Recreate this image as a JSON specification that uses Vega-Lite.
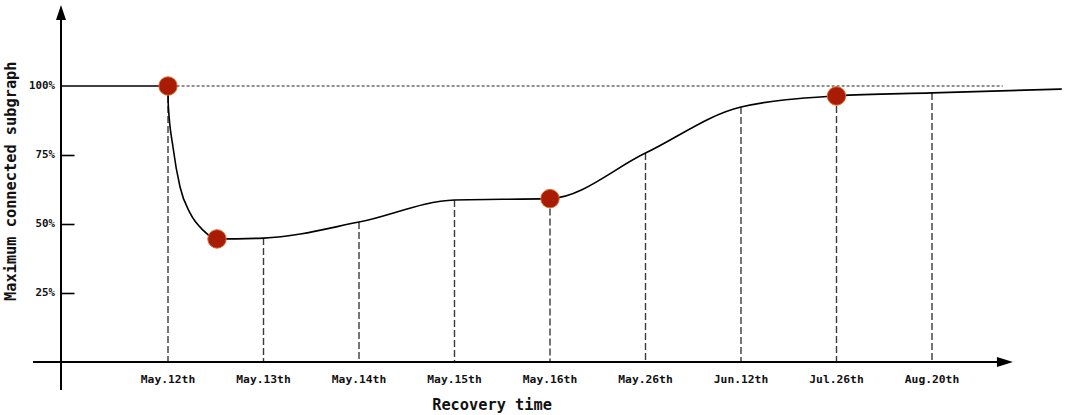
{
  "$schema": "https://vega.github.io/schema/vega-lite/v6.json",
  "width": 1065,
  "height": 415,
  "autosize": {"type": "none"},
  "padding": 0,
  "background": "white",
  "config": {"view": {"stroke": null}},
  "resolve": {"axis": {"y": "independent", "x": "independent"}},
  "datasets": {
    "curve": [
      {"series": "flat", "t": -0.12, "v": 100},
      {"series": "flat", "t": 1, "v": 100},
      {"series": "curve", "t": 1, "v": 100},
      {"series": "curve", "t": 1.003, "v": 93},
      {"series": "curve", "t": 1.052, "v": 77.9},
      {"series": "curve", "t": 1.126, "v": 63.4},
      {"series": "curve", "t": 1.23, "v": 54.0},
      {"series": "curve", "t": 1.366, "v": 47.8},
      {"series": "curve", "t": 1.513, "v": 44.6},
      {"series": "curve", "t": 2, "v": 44.9},
      {"series": "curve", "t": 3, "v": 50.7},
      {"series": "curve", "t": 4, "v": 58.7},
      {"series": "curve", "t": 5, "v": 59.2},
      {"series": "curve", "t": 6, "v": 75.7},
      {"series": "curve", "t": 7, "v": 92.4},
      {"series": "curve", "t": 8, "v": 96.4},
      {"series": "curve", "t": 9, "v": 97.5},
      {"series": "curve", "t": 10.36, "v": 98.9}
    ],
    "ticks": [
      {"t": 1, "label": "May.12th", "top": 100},
      {"t": 2, "label": "May.13th", "top": 44.9},
      {"t": 3, "label": "May.14th", "top": 50.7},
      {"t": 4, "label": "May.15th", "top": 58.7},
      {"t": 5, "label": "May.16th", "top": 59.2},
      {"t": 6, "label": "May.26th", "top": 75.7},
      {"t": 7, "label": "Jun.12th", "top": 92.4},
      {"t": 8, "label": "Jul.26th", "top": 96.4},
      {"t": 9, "label": "Aug.20th", "top": 97.5}
    ],
    "points": [
      {"t": 1, "v": 100},
      {"t": 1.513, "v": 44.6},
      {"t": 5, "v": 59.2},
      {"t": 8, "v": 96.4}
    ],
    "yticks": [
      {"v": 100, "label": "100%"},
      {"v": 75, "label": "75%"},
      {"v": 50, "label": "50%"},
      {"v": 25, "label": "25%"}
    ]
  },
  "layer": [
    {
      "data": {"name": "ticks"},
      "mark": {"type": "rule", "color": "#3a3a3a", "strokeWidth": 1.4, "strokeDash": [7, 3]},
      "encoding": {
        "x": {"field": "t", "type": "quantitative", "scale": {"domain": [-0.7592, 10.3927], "nice": false, "zero": false}, "axis": null},
        "y": {"field": "top", "type": "quantitative", "scale": {"domain": [-19.2, 131.16], "nice": false, "zero": false}, "axis": null},
        "y2": {"datum": 0}
      }
    },
    {
      "data": {"values": [{}]},
      "mark": {"type": "rule", "color": "#222222", "strokeWidth": 1.2, "strokeDash": [3, 2]},
      "encoding": {
        "x": {"datum": 1.09, "type": "quantitative", "scale": {"domain": [-0.7592, 10.3927], "nice": false, "zero": false}, "axis": null},
        "x2": {"datum": 9.74},
        "y": {"datum": 100, "type": "quantitative", "scale": {"domain": [-19.2, 131.16], "nice": false, "zero": false}, "axis": null}
      }
    },
    {
      "data": {"values": [{}]},
      "mark": {"type": "rule", "color": "#000000", "strokeWidth": 2},
      "encoding": {
        "x": {"datum": -0.1204, "type": "quantitative", "scale": {"domain": [-0.7592, 10.3927], "nice": false, "zero": false}, "axis": null},
        "y": {"datum": -10.14, "type": "quantitative", "scale": {"domain": [-19.2, 131.16], "nice": false, "zero": false}, "axis": null},
        "y2": {"datum": 124.5}
      }
    },
    {
      "data": {"values": [{}]},
      "mark": {"type": "rule", "color": "#000000", "strokeWidth": 2},
      "encoding": {
        "x": {"datum": -0.4136, "type": "quantitative", "scale": {"domain": [-0.7592, 10.3927], "nice": false, "zero": false}, "axis": null},
        "x2": {"datum": 9.70},
        "y": {"datum": 0, "type": "quantitative", "scale": {"domain": [-19.2, 131.16], "nice": false, "zero": false}, "axis": null}
      }
    },
    {
      "data": {"values": [{}]},
      "mark": {"type": "point", "shape": "M0,-1L0.667,1L-0.667,1Z", "size": 225, "filled": true, "color": "#000000", "opacity": 1},
      "encoding": {
        "x": {"datum": -0.1204, "type": "quantitative", "scale": {"domain": [-0.7592, 10.3927], "nice": false, "zero": false}, "axis": null},
        "y": {"datum": 126.6, "type": "quantitative", "scale": {"domain": [-19.2, 131.16], "nice": false, "zero": false}, "axis": null}
      }
    },
    {
      "data": {"values": [{}]},
      "mark": {"type": "point", "shape": "M1,0L-1,-0.625L-1,0.625Z", "size": 256, "filled": true, "color": "#000000", "opacity": 1},
      "encoding": {
        "x": {"datum": 9.764, "type": "quantitative", "scale": {"domain": [-0.7592, 10.3927], "nice": false, "zero": false}, "axis": null},
        "y": {"datum": 0, "type": "quantitative", "scale": {"domain": [-19.2, 131.16], "nice": false, "zero": false}, "axis": null}
      }
    },
    {
      "data": {"name": "curve"},
      "mark": {"type": "line", "interpolate": "monotone", "color": "#000000", "strokeWidth": 1.6},
      "encoding": {
        "x": {"field": "t", "type": "quantitative", "scale": {"domain": [-0.7592, 10.3927], "nice": false, "zero": false}, "axis": null},
        "y": {
          "field": "v",
          "type": "quantitative",
          "scale": {"domain": [-19.2, 131.16], "nice": false, "zero": false},
          "axis": {
            "orient": "right",
            "offset": -1004,
            "values": [25, 50, 75],
            "tickSize": 13,
            "tickWidth": 1.6,
            "tickColor": "#000000",
            "tickOpacity": 1,
            "ticks": true,
            "labels": false,
            "domain": false,
            "grid": false,
            "title": null
          }
        },
        "detail": {"field": "series", "type": "nominal"}
      }
    },
    {
      "data": {"name": "points"},
      "mark": {"type": "point", "filled": true, "size": 340, "color": "#a81c05", "stroke": "#d8662a", "strokeWidth": 1, "opacity": 1},
      "encoding": {
        "x": {"field": "t", "type": "quantitative", "scale": {"domain": [-0.7592, 10.3927], "nice": false, "zero": false}, "axis": null},
        "y": {"field": "v", "type": "quantitative", "scale": {"domain": [-19.2, 131.16], "nice": false, "zero": false}, "axis": null}
      }
    },
    {
      "data": {"name": "ticks"},
      "mark": {"type": "text", "font": "DejaVu Sans Mono", "fontWeight": "bold", "fontSize": 11.3, "color": "#111111", "baseline": "middle", "align": "center"},
      "encoding": {
        "x": {"field": "t", "type": "quantitative", "scale": {"domain": [-0.7592, 10.3927], "nice": false, "zero": false}, "axis": null},
        "y": {"datum": -6.52, "type": "quantitative", "scale": {"domain": [-19.2, 131.16], "nice": false, "zero": false}, "axis": null},
        "text": {"field": "label", "type": "nominal"}
      }
    },
    {
      "data": {"name": "yticks"},
      "mark": {"type": "text", "font": "DejaVu Sans Mono", "fontWeight": "bold", "fontSize": 10.8, "color": "#111111", "baseline": "middle", "align": "right"},
      "encoding": {
        "x": {"datum": -0.1832, "type": "quantitative", "scale": {"domain": [-0.7592, 10.3927], "nice": false, "zero": false}, "axis": null},
        "y": {"field": "v", "type": "quantitative", "scale": {"domain": [-19.2, 131.16], "nice": false, "zero": false}, "axis": null},
        "text": {"field": "label", "type": "nominal"}
      }
    },
    {
      "data": {"values": [{"title": "Recovery time"}]},
      "mark": {"type": "text", "font": "DejaVu Sans Mono", "fontWeight": "bold", "fontSize": 15.3, "color": "#111111", "baseline": "middle", "align": "center"},
      "encoding": {
        "x": {"datum": 4.393, "type": "quantitative", "scale": {"domain": [-0.7592, 10.3927], "nice": false, "zero": false}, "axis": null},
        "y": {"datum": -15.58, "type": "quantitative", "scale": {"domain": [-19.2, 131.16], "nice": false, "zero": false}, "axis": null},
        "text": {"field": "title", "type": "nominal"}
      }
    },
    {
      "data": {"values": [{"title": "Maximum connected subgraph"}]},
      "mark": {"type": "text", "font": "DejaVu Sans Mono", "fontWeight": "bold", "fontSize": 15.3, "color": "#111111", "baseline": "middle", "align": "center", "angle": 270},
      "encoding": {
        "x": {"datum": -0.644, "type": "quantitative", "scale": {"domain": [-0.7592, 10.3927], "nice": false, "zero": false}, "axis": null},
        "y": {"datum": 65.5, "type": "quantitative", "scale": {"domain": [-19.2, 131.16], "nice": false, "zero": false}, "axis": null},
        "text": {"field": "title", "type": "nominal"}
      }
    }
  ]
}
